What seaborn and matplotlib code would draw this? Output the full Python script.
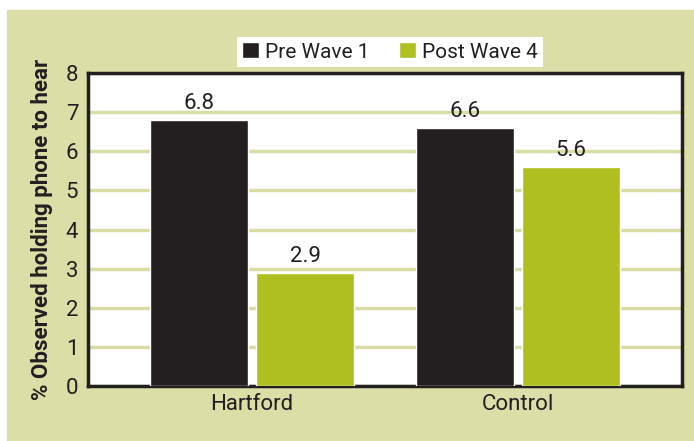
import matplotlib
matplotlib.use("Agg")
import matplotlib.pyplot as plt
import seaborn as sns
import pandas as pd

groups = ["Hartford", "Control"]
series = ["Pre Wave 1", "Post Wave 4"]
pre_values = [6.8, 6.6]
post_values = [2.9, 5.6]
y_ticks = [0, 1, 2, 3, 4, 5, 6, 7, 8]
y_label = "% Observed holding phone to hear"

df = pd.DataFrame({
    "group": groups * 2,
    "series": [series[0]] * 2 + [series[1]] * 2,
    "value": pre_values + post_values,
})

sns.set_theme(style="white")
plt.rcParams['font.family'] = ['Roboto', 'DejaVu Sans']

BG = "#DBDFA7"
BLACK = "#231F20"
GREEN = "#AFBF20"
GRID = "#D8DDA6"
FS = 15

fig = plt.figure(figsize=(6.94, 4.41), dpi=100, facecolor="white")
bg = plt.Rectangle((7 / 694, 1 / 441), 687 / 694, 430 / 441,
                   transform=fig.transFigure, color=BG, zorder=-10)
fig.patches.append(bg)
ax = fig.add_axes([88 / 694, 1 - 386 / 441, 594 / 694, 313 / 441])
ax.set_zorder(1)
ax.set_facecolor("white")

sns.barplot(data=df, x="group", y="value", hue="series", order=groups,
            hue_order=series, palette=[BLACK, GREEN], width=0.797, gap=0.075,
            saturation=1, ax=ax, zorder=3, legend=True)

for cont in ax.containers:
    ax.bar_label(cont, fmt="%.1f", padding=4, fontsize=16, color=BLACK)

ax.set_xlim(-0.617, 1.617)
ax.set_ylim(0, 8)
ax.set_yticks(y_ticks)
ax.set_yticklabels([str(t) for t in y_ticks], fontsize=16, color=BLACK)
ax.tick_params(axis="x", labelsize=16, colors=BLACK, length=0, pad=6)
ax.tick_params(axis="y", length=0, pad=7)
for lab in ax.get_xticklabels():
    lab.set_color(BLACK)
ax.yaxis.grid(True, color=GRID, linewidth=2.5, zorder=0)
ax.set_axisbelow(True)
ax.set_xlabel("")
ax.set_ylabel(y_label, fontsize=16, fontweight="bold", color=BLACK, labelpad=9)

for s in ax.spines.values():
    s.set_visible(True)
    s.set_color(BLACK)
    s.set_linewidth(2.5)

handles, labels = ax.get_legend_handles_labels()
if ax.get_legend():
    ax.get_legend().remove()
leg = fig.legend(handles, labels, loc="center", bbox_to_anchor=(390 / 694, 1 - 52 / 441),
                 ncol=2, frameon=True, fancybox=False, fontsize=FS, handlelength=0.8,
                 handleheight=0.8, handletextpad=0.3, columnspacing=1.4,
                 borderpad=0.25, borderaxespad=0, framealpha=1)
leg.get_frame().set_facecolor("white")
leg.get_frame().set_edgecolor("white")
leg.get_frame().set_linewidth(0)
for t in leg.get_texts():
    t.set_color(BLACK)

fig.savefig("out.png", dpi=100, facecolor="white")
